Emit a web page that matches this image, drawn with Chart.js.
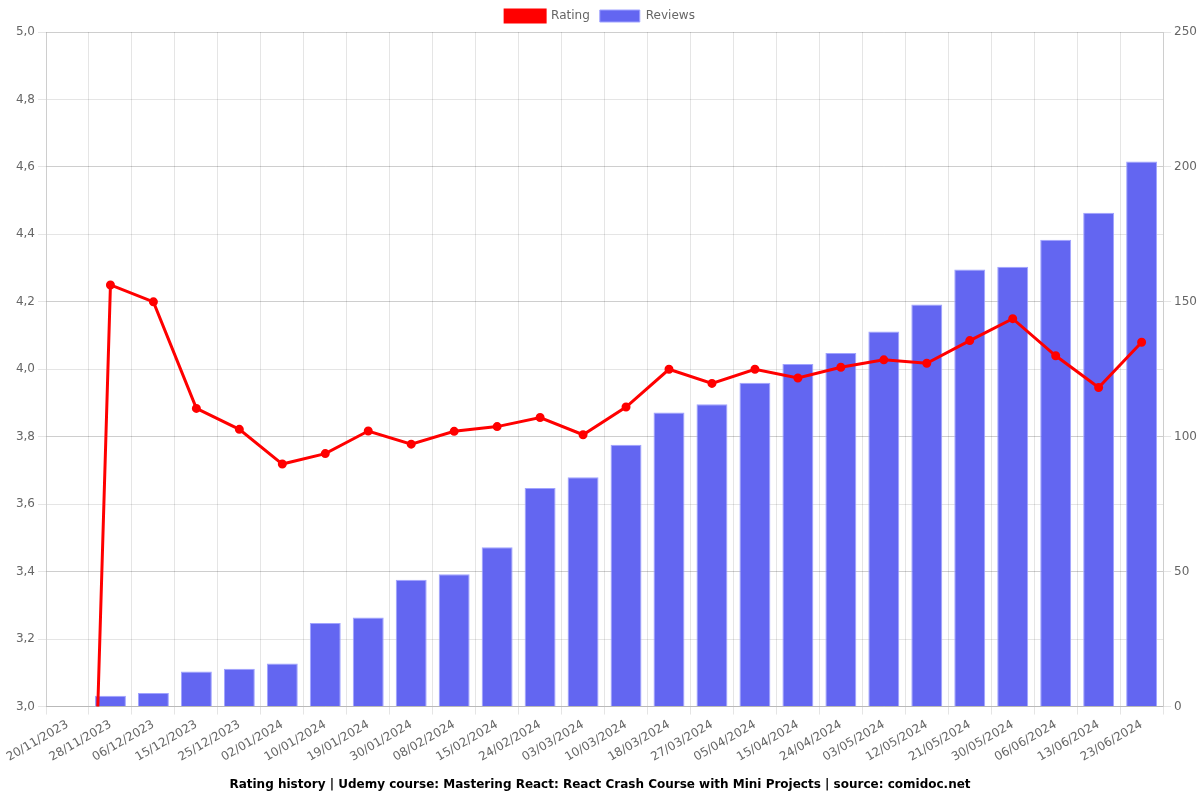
<!DOCTYPE html>
<html>
<head>
<meta charset="utf-8">
<script src="https://cdn.jsdelivr.net/npm/chart.js@4.4.1/dist/chart.umd.min.js"></script>
<style>
    html, body { margin: 0; padding: 0; background: #fff; }
    #wrap { width: 1200px; height: 800px; }
</style>
</head>
<body>
<div id="wrap"><canvas id="ratingChart"></canvas></div>
<script>
// dates of each snapshot
const dates = ['20/11/2023', '28/11/2023', '06/12/2023', '15/12/2023', '25/12/2023', '02/01/2024',
    '10/01/2024', '19/01/2024', '30/01/2024', '08/02/2024', '15/02/2024', '24/02/2024', '03/03/2024',
    '10/03/2024', '18/03/2024', '27/03/2024', '05/04/2024', '15/04/2024', '24/04/2024', '03/05/2024',
    '12/05/2024', '21/05/2024', '30/05/2024', '06/06/2024', '13/06/2024', '23/06/2024'];

// average rating (left axis)
const ratings = [0, 4.25, 4.20, 3.884, 3.822, 3.719, 3.75, 3.817, 3.778, 3.816, 3.83, 3.857, 3.806,
    3.888, 4.0, 3.958, 4.0, 3.974, 4.006, 4.028, 4.018, 4.085, 4.15, 4.04, 3.946, 4.08];

// number of reviews (right axis)
const reviews = [0, 4, 5, 13, 14, 16, 31, 33, 47, 49, 59, 81, 85, 97, 109, 112, 120, 127, 131, 139,
    149, 162, 163, 173, 183, 202];

const titleText = 'Rating history | Udemy course: Mastering React: React Crash Course with Mini Projects | source: comidoc.net';

Chart.defaults.font.family = '"DejaVu Sans", sans-serif';
Chart.defaults.font.size = 12;
Chart.defaults.color = '#666';

const ctx = document.getElementById('ratingChart').getContext('2d');
const chart = new Chart(ctx, {
    type: 'bar',
    data: {
        labels: dates,
        datasets: [{
            type: 'line',
            label: 'Rating',
            data: ratings,
            yAxisID: 'y',
            borderColor: '#ff0000',
            backgroundColor: '#ff0000',
            borderWidth: 3,
            pointRadius: 3,
            pointBackgroundColor: '#ff0000',
            tension: 0,
            order: 0
        }, {
            type: 'bar',
            label: 'Reviews',
            data: reviews,
            yAxisID: 'y1',
            backgroundColor: '#6366f1',
            borderColor: 'rgba(160,163,255,1)',
            borderWidth: 1,
            order: 1
        }]
    },
    options: {
        responsive: true,
        maintainAspectRatio: false,
        animation: false,
        plugins: {
            legend: {
                position: 'top',
                labels: { boxWidth: 40, boxHeight: 12 }
            },
            title: {
                display: true,
                position: 'bottom',
                text: titleText,
                color: '#000',
                font: { size: 12, weight: 'bold' },
                padding: { top: 10, bottom: 8 }
            },
            tooltip: { enabled: false }
        },
        scales: {
            x: {
                ticks: { autoSkip: false, maxRotation: 30, minRotation: 30 },
                grid: { color: 'rgba(0,0,0,0.1)' }
            },
            y: {
                position: 'left',
                min: 3,
                max: 5,
                ticks: {
                    stepSize: 0.2,
                    callback: v => v.toFixed(1).replace('.', ',')
                },
                grid: { color: 'rgba(0,0,0,0.1)' },
                afterFit: scale => { scale.width = 46; }
            },
            y1: {
                position: 'right',
                min: 0,
                max: 250,
                ticks: { stepSize: 50 },
                grid: { color: 'rgba(0,0,0,0.1)' }
            }
        }
    }
});
</script>
</body>
</html>
